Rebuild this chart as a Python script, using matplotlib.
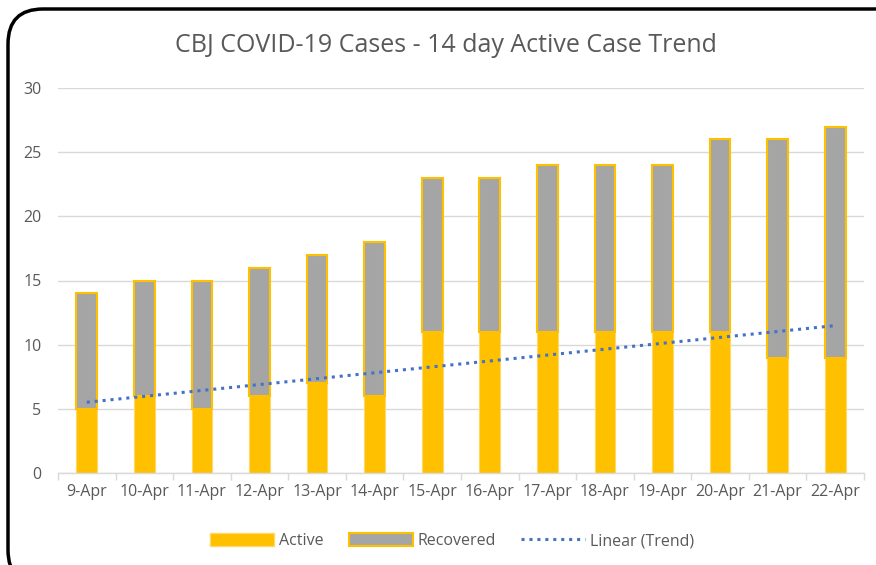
import numpy as np
import matplotlib
matplotlib.use("Agg")
import matplotlib.pyplot as plt
from matplotlib.patches import FancyBboxPatch, Patch
from matplotlib.lines import Line2D

dates = ["9-Apr", "10-Apr", "11-Apr", "12-Apr", "13-Apr", "14-Apr", "15-Apr",
         "16-Apr", "17-Apr", "18-Apr", "19-Apr", "20-Apr", "21-Apr", "22-Apr"]
active = [5, 6, 5, 6, 7, 6, 11, 11, 11, 11, 11, 11, 9, 9]
recovered = [9, 9, 10, 10, 10, 12, 12, 12, 13, 13, 13, 15, 17, 18]
yticks = [0, 5, 10, 15, 20, 25, 30]

plt.rcParams['font.family'] = ['Open Sans', 'DejaVu Sans']
W, H = 876, 565
fig = plt.figure(figsize=(W / 100, H / 100), dpi=100)

# rounded outer frame
frame = FancyBboxPatch((8 / W, -20 / H), (W + 30) / W, (H - 9 + 20) / H,
                       boxstyle="round,pad=0,rounding_size=0.04",
                       transform=fig.transFigure, fill=False,
                       edgecolor="black", linewidth=2.5, mutation_aspect=W / H)
fig.patches.append(frame)

ax = fig.add_axes([58 / W, 1 - 473 / H, (864 - 58) / W, (473 - 88) / H])
x = np.arange(len(dates))
gold = "#FFC000"
gray = "#A5A5A5"
bw = 0.36
ax.bar(x, active, width=bw, color=gold, edgecolor="#FFD966", linewidth=0.8,
       zorder=2, label="Active")
ax.bar(x, recovered, width=bw, bottom=active, color=gray, edgecolor=gold,
       linewidth=1.5, zorder=2, label="Recovered")

coef = np.polyfit(x, active, 1)
trend = np.polyval(coef, x)
ax.plot(x, trend, linestyle=(0, (1, 1.6)), color="#4472C4", linewidth=2.2,
        zorder=3, label="Linear (Trend)")

ax.set_xlim(-0.5, len(dates) - 0.5)
ax.set_ylim(0, 30)
ax.set_yticks(yticks)
ax.set_xticks(x)
ax.set_xticklabels(dates)
ax.set_xticks(np.arange(-0.5, len(dates), 1), minor=True)
ax.tick_params(axis="x", which="major", length=0, pad=8, labelsize=11.5,
               labelcolor="#595959")
ax.tick_params(axis="x", which="minor", length=5, color="#D9D9D9", width=1)
ax.tick_params(axis="y", length=0, pad=12, labelsize=11.5, labelcolor="#595959")
ax.grid(axis="y", color="#D9D9D9", linewidth=1, zorder=0)
ax.set_axisbelow(True)
for s in ["top", "right", "left"]:
    ax.spines[s].set_visible(False)
ax.spines["bottom"].set_color("#D9D9D9")
ax.spines["bottom"].set_linewidth(1)

fig.text(446 / W, 1 - 45 / H, "CBJ COVID-19 Cases - 14 day Active Case Trend",
         ha="center", va="center", fontsize=18, color="#595959")

handles = [Patch(facecolor=gold, edgecolor="#FFD966", label="Active"),
           Patch(facecolor=gray, edgecolor=gold, linewidth=1.5, label="Recovered"),
           Line2D([0], [0], linestyle=(0, (1, 1.6)), color="#4472C4",
                  linewidth=2.2, label="Linear (Trend)")]
leg = fig.legend(handles=handles, loc="center", bbox_to_anchor=(452 / W, 1 - 541 / H),
                 ncol=3, frameon=False, fontsize=11.5, handlelength=4.0,
                 handleheight=0.8, columnspacing=1.6, handletextpad=0.3)
for t in leg.get_texts():
    t.set_color("#595959")

fig.savefig("out.png", dpi=100)
